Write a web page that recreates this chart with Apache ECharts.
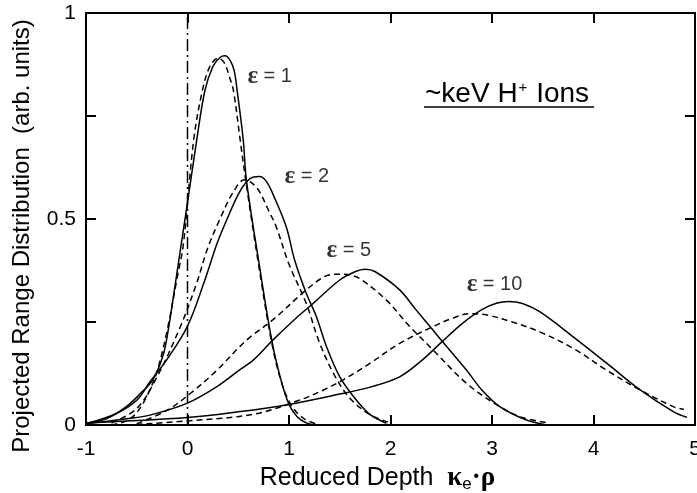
<!DOCTYPE html>
<html>
<head>
<meta charset="utf-8">
<script src="https://cdn.jsdelivr.net/npm/echarts@6/dist/echarts.min.js"></script>
<style>
html,body{margin:0;padding:0;background:#fff;}
#c{width:697px;height:493px;}
</style>
</head>
<body>
<div id="c"></div>
<script>
// ---- data (x = reduced depth, y = distribution) ----
const eps1Solid = [[-1,0.005],[-0.8,0.015],[-0.6,0.045],[-0.45,0.08],[-0.34,0.11],[-0.24,0.17],[-0.19,0.23],[-0.14,0.31],[-0.07,0.425],[0,0.54],[0.09,0.69],[0.17,0.81],[0.25,0.87],[0.32,0.892],[0.37,0.896],[0.42,0.885],[0.46,0.86],[0.49,0.81],[0.55,0.69],[0.58,0.595],[0.7,0.40],[0.83,0.206],[0.92,0.11],[1.0,0.05],[1.08,0.02],[1.17,0.005],[1.25,0]];
const eps1Dash = [[-0.75,0],[-0.6,0.01],[-0.5,0.03],[-0.4,0.07],[-0.3,0.13],[-0.2,0.23],[-0.1,0.36],[-0.04,0.44],[0.06,0.69],[0.145,0.81],[0.22,0.87],[0.3,0.89],[0.36,0.88],[0.42,0.84],[0.454,0.81],[0.52,0.69],[0.576,0.59],[0.7,0.39],[0.83,0.2],[0.93,0.1],[1.03,0.045],[1.15,0.015],[1.3,0]];
const eps2Solid = [[-1,0.003],[-0.7,0.028],[-0.5,0.06],[-0.37,0.105],[-0.2,0.16],[0,0.24],[0.16,0.344],[0.29,0.44],[0.39,0.50],[0.5,0.56],[0.58,0.59],[0.65,0.602],[0.71,0.603],[0.78,0.59],[0.86,0.55],[0.974,0.48],[1.056,0.40],[1.17,0.32],[1.27,0.263],[1.37,0.19],[1.5,0.117],[1.665,0.06],[1.8,0.025],[1.96,0.004]];
const eps2Dash = [[-0.75,0.005],[-0.5,0.04],[-0.3,0.117],[-0.07,0.239],[0.09,0.344],[0.2,0.43],[0.32,0.5],[0.45,0.565],[0.56,0.595],[0.62,0.59],[0.7,0.57],[0.8,0.52],[0.876,0.48],[1.0,0.39],[1.17,0.295],[1.3,0.2],[1.45,0.12],[1.6,0.065],[1.8,0.025],[2.0,0.005]];
const eps5Solid = [[-1,0.003],[-0.6,0.015],[-0.37,0.024],[0,0.053],[0.29,0.093],[0.51,0.133],[0.65,0.158],[0.84,0.206],[1.05,0.255],[1.237,0.295],[1.5,0.352],[1.65,0.372],[1.75,0.378],[1.85,0.372],[2.09,0.328],[2.25,0.28],[2.42,0.23],[2.52,0.2],[2.75,0.133],[2.9,0.085],[3.08,0.044],[3.34,0.012],[3.54,0]];
const eps5Dash = [[-0.5,0.003],[-0.2,0.036],[0.03,0.077],[0.29,0.133],[0.513,0.19],[0.62,0.214],[0.84,0.255],[1.17,0.328],[1.35,0.36],[1.47,0.366],[1.6,0.364],[1.70,0.355],[1.96,0.303],[2.19,0.239],[2.42,0.182],[2.75,0.101],[3.08,0.044],[3.3,0.018],[3.57,0.005]];
const eps10Solid = [[-1,0.005],[0,0.018],[0.5,0.032],[1.0,0.05],[1.5,0.075],[1.8,0.092],[2.09,0.117],[2.3,0.155],[2.49,0.198],[2.7,0.245],[2.9,0.28],[3.05,0.296],[3.17,0.30],[3.3,0.295],[3.47,0.275],[3.8,0.214],[4.13,0.15],[4.46,0.085],[4.79,0.032],[4.92,0.019]];
const eps10Dash = [[-0.6,0],[0,0.01],[0.65,0.026],[1.1,0.06],[1.34,0.085],[1.53,0.109],[1.8,0.15],[2.09,0.198],[2.42,0.239],[2.6,0.258],[2.78,0.27],[2.95,0.267],[3.2,0.25],[3.47,0.226],[3.8,0.186],[4.13,0.133],[4.46,0.085],[4.79,0.044],[4.89,0.038]];
const zeroLine = [[0,0],[0,1]];
const yTickLabels = ['0','0.5','1'];
const curveLabels = [
  {eps:'1', x:0.59, y:0.845},
  {eps:'2', x:0.955, y:0.603},
  {eps:'5', x:1.37, y:0.424},
  {eps:'10', x:2.75, y:0.34}
];

const chart = echarts.init(document.getElementById('c'), null, {renderer:'canvas'});
const FONT = '"Liberation Sans", Arial, sans-serif';
const solidStyle = {color:'#000', width:1.5, type:'solid'};
const dashStyle = {color:'#000', width:1.5, type:[6,4]};
function mk(data, style){
  return {type:'line', data:data, smooth:0.35, showSymbol:false, symbol:'none', lineStyle:style, silent:true, z:3};
}
const axisLine = {show:true, onZero:false, lineStyle:{color:'#000', width:2}};
const tick = {show:true, inside:true, length:10, lineStyle:{color:'#000', width:2}};

const option = {
  animation:false,
  backgroundColor:'#fff',
  grid:{left:86, right:2, top:13, bottom:68, containLabel:false, outerBoundsMode:'none'},
  xAxis:[{
    type:'value', min:-1, max:5, interval:1, position:'bottom',
    axisLine:axisLine, axisTick:tick, splitLine:{show:false},
    axisLabel:{color:'#000', fontSize:21, fontFamily:FONT, margin:14},
    name:'Reduced Depth  {k|κ}{s|e}{k|·ρ}', nameLocation:'middle', nameGap:34,
    nameTextStyle:{color:'#000', fontSize:25, fontFamily:FONT, padding:[0,26,0,0],
      rich:{k:{fontSize:27, fontWeight:'bold', fontFamily:'"Liberation Serif", serif', color:'#000'},
            s:{fontSize:17, fontFamily:FONT, color:'#000', padding:[12,0,0,0]}}}
  },{
    type:'value', min:-1, max:5, interval:1, position:'top',
    axisLine:axisLine, axisTick:tick, axisLabel:{show:false}, splitLine:{show:false}
  }],
  yAxis:[{
    type:'value', min:0, max:1, interval:0.25, position:'left',
    axisLine:axisLine, axisTick:tick, splitLine:{show:false},
    axisLabel:{color:'#000', fontSize:21, fontFamily:FONT, margin:10,
      formatter:function(v){ const i=[0,0.5,1].indexOf(v); return i>=0?yTickLabels[i]:''; }},
    name:'Projected Range Distribution  (arb. units)', nameLocation:'middle', nameGap:52,
    nameTextStyle:{color:'#000', fontSize:24, fontFamily:FONT, padding:[0,34,0,0]}
  },{
    type:'value', min:0, max:1, interval:0.25, position:'right',
    axisLine:axisLine, axisTick:tick, axisLabel:{show:false}, splitLine:{show:false}
  }],
  series:[
    {type:'line', data:zeroLine, showSymbol:false, symbol:'none', lineStyle:{color:'#000', width:1.5, type:[12,4,2,4]}, z:2},
    mk(eps1Solid, solidStyle), mk(eps1Dash, dashStyle),
    mk(eps2Solid, solidStyle), mk(eps2Dash, dashStyle),
    mk(eps5Solid, solidStyle), mk(eps5Dash, dashStyle),
    mk(eps10Solid, solidStyle), mk(eps10Dash, dashStyle),
    {type:'scatter', data:curveLabels.map(d=>[d.x,d.y,d.eps]), symbolSize:0, silent:true, z:5,
      label:{show:true, position:'right', distance:0,
        formatter:function(p){ return '{e|ε}{t| = '+p.value[2]+'}'; },
        rich:{e:{fontSize:25, fontWeight:'bold', fontFamily:'"Liberation Serif", serif', color:'#000'},
              t:{fontSize:20, fontFamily:FONT, color:'#000'}}}}
  ],
  graphic:[
    {type:'text', left:425, top:80, style:{text:'~keV H{sup|+} Ions', fill:'#000', font:'28px "Liberation Sans", Arial, sans-serif',
      rich:{sup:{fontSize:15, verticalAlign:'top', fontFamily:FONT, fill:'#000', padding:[0,1,12,1]}}}},
    {type:'line', shape:{x1:424, y1:107, x2:594, y2:107}, style:{stroke:'#000', lineWidth:1.5}}
  ]
};
chart.setOption(option);
</script>
</body>
</html>
